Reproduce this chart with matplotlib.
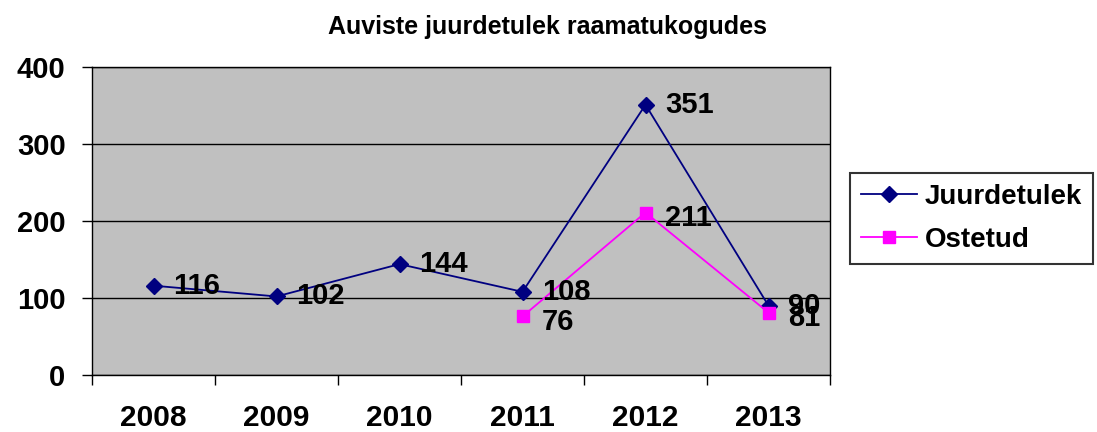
import matplotlib
matplotlib.use("Agg")
import matplotlib.pyplot as plt

years = ["2008", "2009", "2010", "2011", "2012", "2013"]
juurdetulek = [116, 102, 144, 108, 351, 90]
ostetud_years = ["2011", "2012", "2013"]
ostetud = [76, 211, 81]

plt.rcParams['font.family'] = ['Liberation Sans', 'DejaVu Sans']

fig = plt.figure(figsize=(10.97, 4.32), dpi=100)
ax = fig.add_axes([92/1097, 1 - 375/432, (830-92)/1097, (375-67)/432])
ax.set_facecolor('#C0C0C0')

xj = [years.index(y) for y in years]
xo = [years.index(y) for y in ostetud_years]

ax.plot(xj, juurdetulek, color='#000080', marker='D', markersize=8, lw=1.3, label='Juurdetulek', zorder=3)
ax.plot(xo, ostetud, color='#FF00FF', marker='s', markersize=8, lw=1.3, label='Ostetud', zorder=3)

for x, v in zip(xj, juurdetulek):
    ax.annotate(str(v), (x, v), xytext=(14, 0), textcoords='offset points',
                ha='left', va='center', fontsize=21, fontweight='bold', zorder=4)
for x, v in zip(xo, ostetud):
    ax.annotate(str(v), (x, v), xytext=(14, -4), textcoords='offset points',
                ha='left', va='center', fontsize=21, fontweight='bold', zorder=4)

ax.set_xlim(-0.5, len(years) - 0.5)
ax.set_ylim(0, 400)
ax.set_yticks([0, 100, 200, 300, 400])
ax.yaxis.grid(True, color='black', lw=1)
ax.set_axisbelow(True)

ax.set_xticks([i - 0.5 for i in range(len(years) + 1)])
ax.set_xticklabels([])
ax.set_xticks(range(len(years)), minor=True)
ax.set_xticklabels(years, minor=True, fontsize=21.5, fontweight='bold')
ax.tick_params(axis='x', which='major', direction='out', length=7, width=1, color='black')
ax.tick_params(axis='x', which='minor', length=0, pad=21)
ax.tick_params(axis='y', direction='out', length=7, width=1, pad=12, labelsize=21)
for lab in ax.get_yticklabels():
    lab.set_fontweight('bold')

for s in ax.spines.values():
    s.set_color('black')
    s.set_linewidth(1)

fig.text(547/1097, 1 - 27/432, 'Auviste juurdetulek raamatukogudes', ha='center', va='center',
         fontsize=18, fontweight='bold')

leg = fig.legend(loc='upper left', bbox_to_anchor=(850/1097, 1 - 173/432),
                 prop={'weight': 'bold', 'size': 20}, frameon=True, fancybox=False,
                 edgecolor='black', handlelength=2.0, handletextpad=0.3, borderpad=0.4,
                 labelspacing=0.6, borderaxespad=0)
leg.get_frame().set_linewidth(1.5)

fig.savefig('out.png', dpi=100)
